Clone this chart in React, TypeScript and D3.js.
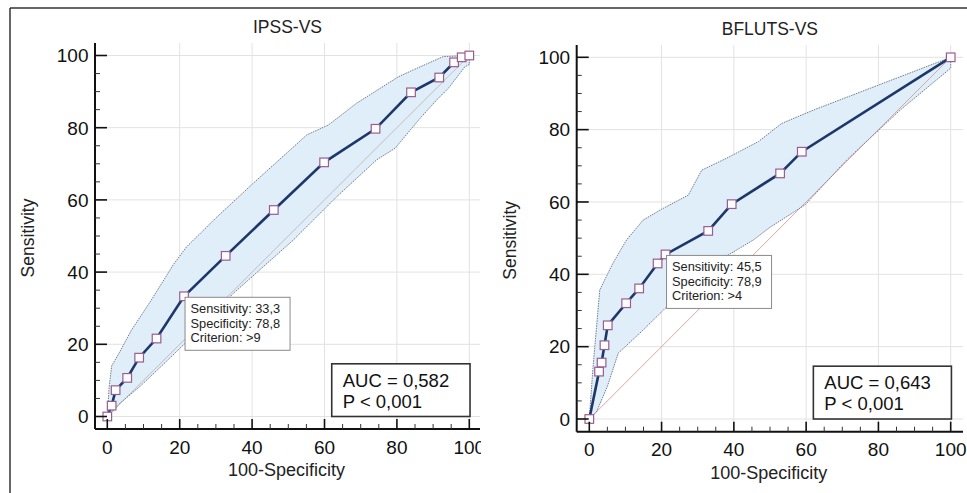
import React from 'react';
import * as d3 from 'd3';

// ROC points: x = 100-Specificity, y = Sensitivity
const ipssX = [0, 1.2, 2.3, 5.5, 8.8, 13.6, 21.2, 32.7, 46.0, 59.9, 74.1, 83.9, 91.7, 95.8, 97.9, 100];
const ipssY = [0, 3.0, 7.3, 10.7, 16.3, 21.6, 33.3, 44.5, 57.2, 70.4, 79.7, 89.8, 93.9, 98.1, 99.5, 100];
const ipssUpperX = [0, 0.5, 1.2, 3.5, 6.7, 12, 18.2, 21.9, 30, 40.3, 55.1, 61, 68.9, 80.4, 84.5, 92.8, 100];
const ipssUpperY = [0, 8, 14, 18, 24, 32, 42, 47, 55, 64.6, 78, 80.7, 86.8, 94.1, 96, 99.7, 100];
const ipssLowerX = [0, 1.5, 3.5, 9, 15, 21.5, 34.8, 51.4, 57.8, 63.4, 74.4, 79.5, 86.4, 91, 94.2, 98.8, 100, 100];
const ipssLowerY = [0, 1.5, 3.7, 8.3, 14, 20.3, 34.1, 48.9, 55.3, 60.9, 71.1, 74.3, 82.6, 87.7, 90.9, 96.9, 97.5, 100];

const bflutsX = [0, 2.7, 3.4, 4.2, 5.1, 10.2, 13.8, 18.9, 21.1, 32.9, 39.4, 52.8, 58.8, 100];
const bflutsY = [0, 13.1, 15.6, 20.4, 25.9, 32.0, 36.1, 43.0, 45.5, 52.0, 59.4, 67.9, 73.9, 100];
const bflutsUpperX = [0, 1, 2.9, 6.5, 10.3, 14.9, 20, 27.4, 31.1, 38, 46.8, 53.2, 62, 100];
const bflutsUpperY = [0, 14, 35.7, 43, 49.5, 55, 58, 61.9, 68.8, 72.1, 76.7, 81.7, 85.4, 100];
const bflutsLowerX = [0, 2, 5, 8, 14.9, 21.4, 28.8, 36.2, 45.4, 50, 59.7, 71.2, 86, 100, 100];
const bflutsLowerY = [0, 2, 9, 18.2, 24.6, 31, 38.4, 44, 49.5, 53, 59.2, 71.6, 85.4, 97, 100];

const majorTicks = [0, 20, 40, 60, 80, 100];
const minorTicks = d3.range(0, 101, 5).filter(v => v % 20 !== 0);

const FONT = 'Arial, "Liberation Sans", sans-serif';

type PanelProps = {
  id: string;
  title: string;
  xs: number[]; ys: number[];
  upX: number[]; upY: number[];
  loX: number[]; loY: number[];
  cut: number;
  info: string[];
  auc: string; pval: string;
  px0: number; px100: number; py0: number; py100: number;
  left: number; bottom: number; top: number; right: number;
  clipRight?: number;
  diagColor: string;
};

const Panel = (p: PanelProps) => {
  const x = d3.scaleLinear().domain([0, 100]).range([p.px0, p.px100]);
  const y = d3.scaleLinear().domain([0, 100]).range([p.py0, p.py100]);
  const pts = (xs: number[], ys: number[]) => xs.map((v, i) => [v, ys[i]] as [number, number]);
  const line = d3.line<[number, number]>().x(d => x(d[0])).y(d => y(d[1]));
  const roc = pts(p.xs, p.ys);
  const up = pts(p.upX, p.upY);
  const lo = pts(p.loX, p.loY);
  const band = line([...up, ...lo.slice().reverse()]) + 'Z';
  const cx = x(p.xs[p.cut]);
  const cy = y(p.ys[p.cut]);
  const midX = (p.left + p.right) / 2;
  const midY = (p.top + p.bottom) / 2;

  return (
    <g clipPath={p.clipRight ? `url(#clip-${p.id})` : undefined}>
      {p.clipRight && (
        <defs>
          <clipPath id={`clip-${p.id}`}>
            <rect x={0} y={0} width={p.clipRight} height={493} />
          </clipPath>
        </defs>
      )}
      <text x={midX} y={p.top - 10} textAnchor="middle" fontSize={17.5} fontFamily={FONT} fill="#222">{p.title}</text>
      {/* grid */}
      {majorTicks.filter(v => v > 0).map(v => (
        <line key={'gx' + v} x1={x(v)} x2={x(v)} y1={p.top} y2={p.bottom} stroke="#e2e2e2" />
      ))}
      {majorTicks.map(v => (
        <line key={'gy' + v} x1={p.left} x2={p.right} y1={y(v)} y2={y(v)} stroke="#e2e2e2" />
      ))}
      {/* confidence band */}
      <path d={band} fill="#dfeef9" stroke="none" />
      <line x1={x(0)} y1={y(0)} x2={x(100)} y2={y(100)} stroke={p.diagColor} strokeWidth={1} />
      <path d={line(up) || ''} fill="none" stroke="#6f7c88" strokeWidth={1} strokeDasharray="1.5,1" />
      <path d={line(lo) || ''} fill="none" stroke="#6f7c88" strokeWidth={1} strokeDasharray="1.5,1" />
      {/* ROC curve */}
      <path d={line(roc) || ''} fill="none" stroke="#1d3769" strokeWidth={2.6} />
      {roc.map((d, i) => (
        <rect key={i} x={x(d[0]) - 4.3} y={y(d[1]) - 4.3} width={8.6} height={8.6} fill="#fff" stroke="#9b5c8f" strokeWidth={1.2} />
      ))}
      {/* criterion box */}
      <rect x={cx + 1} y={cy + 1} width={105} height={53} fill="#fff" stroke="#8a8a8a" strokeWidth={1} />
      {p.info.map((t, i) => (
        <text key={i} x={cx + 6.5} y={cy + 17} dy={i * 14.3} fontSize={12.8} fontFamily={FONT} fill="#222">{t}</text>
      ))}
      {/* AUC box */}
      <rect x={x(62)} y={y(14.6)} width={x(100.2) - x(62)} height={y(0) - y(14.6)} fill="#fff" stroke="#333" strokeWidth={1.6} />
      <text x={x(62) + 11} y={y(14.6) + 23} fontSize={18.5} fontFamily={FONT} fill="#111">{p.auc}</text>
      <text x={x(62) + 11} y={y(14.6) + 44} fontSize={18.5} fontFamily={FONT} fill="#111">{p.pval}</text>
      {/* axes */}
      <line x1={p.left} x2={p.left} y1={p.top} y2={p.bottom} stroke="#111" strokeWidth={2} />
      <line x1={p.left} x2={p.right} y1={p.bottom} y2={p.bottom} stroke="#111" strokeWidth={2} />
      {majorTicks.map(v => (
        <g key={'mt' + v}>
          <line x1={x(v)} x2={x(v)} y1={p.bottom} y2={p.bottom - 10} stroke="#111" strokeWidth={1.6} />
          <line x1={p.left} x2={p.left + 12} y1={y(v)} y2={y(v)} stroke="#111" strokeWidth={1.6} />
          <text x={x(v)} y={p.bottom + 24.5} textAnchor="middle" fontSize={19} fontFamily={FONT} fill="#111">{v}</text>
          <text x={p.left - 6.5} y={y(v) + 6.8} textAnchor="end" fontSize={19} fontFamily={FONT} fill="#111">{v}</text>
        </g>
      ))}
      {minorTicks.map(v => (
        <g key={'nt' + v}>
          <line x1={x(v)} x2={x(v)} y1={p.bottom} y2={p.bottom - 5} stroke="#333" strokeWidth={1} />
          <line x1={p.left} x2={p.left + 5} y1={y(v)} y2={y(v)} stroke="#333" strokeWidth={1} />
        </g>
      ))}
      <text x={midX - 1} y={p.bottom + 47} textAnchor="middle" fontSize={18} fontFamily={FONT} fill="#222">100-Specificity</text>
      <text transform={`translate(${p.left - 61},${midY + 2}) rotate(-90)`} textAnchor="middle" fontSize={17.5} fontFamily={FONT} fill="#222">Sensitivity</text>
    </g>
  );
};

export default function App() {
  return (
    <svg width={967} height={493} style={{ position: 'absolute', left: 0, top: 0, background: '#fff' }}>
      <rect x={0} y={0} width={967} height={493} fill="#fff" />
      <line x1={10} x2={967} y1={8} y2={8} stroke="#333" strokeWidth={1.5} />
      <line x1={10} x2={10} y1={8} y2={493} stroke="#333" strokeWidth={1.5} />
      <Panel
        id="ipss" title="IPSS-VS"
        xs={ipssX} ys={ipssY} upX={ipssUpperX} upY={ipssUpperY} loX={ipssLowerX} loY={ipssLowerY}
        cut={6} info={['Sensitivity: 33,3', 'Specificity: 78,8', 'Criterion: >9']}
        auc="AUC = 0,582" pval="P < 0,001"
        px0={107.3} px100={469.3} py0={416.5} py100={55.5}
        left={95} bottom={429} top={43} right={480} clipRight={481}
        diagColor="#c4bcc4"
      />
      <Panel
        id="bfluts" title="BFLUTS-VS"
        xs={bflutsX} ys={bflutsY} upX={bflutsUpperX} upY={bflutsUpperY} loX={bflutsLowerX} loY={bflutsLowerY}
        cut={8} info={['Sensitivity: 45,5', 'Specificity: 78,9', 'Criterion: >4']}
        auc="AUC = 0,643" pval="P < 0,001"
        px0={589.3} px100={950.7} py0={419} py100={57.3}
        left={576.7} bottom={431.7} top={45} right={963}
        diagColor="#d6a8a8"
      />
    </svg>
  );
}
